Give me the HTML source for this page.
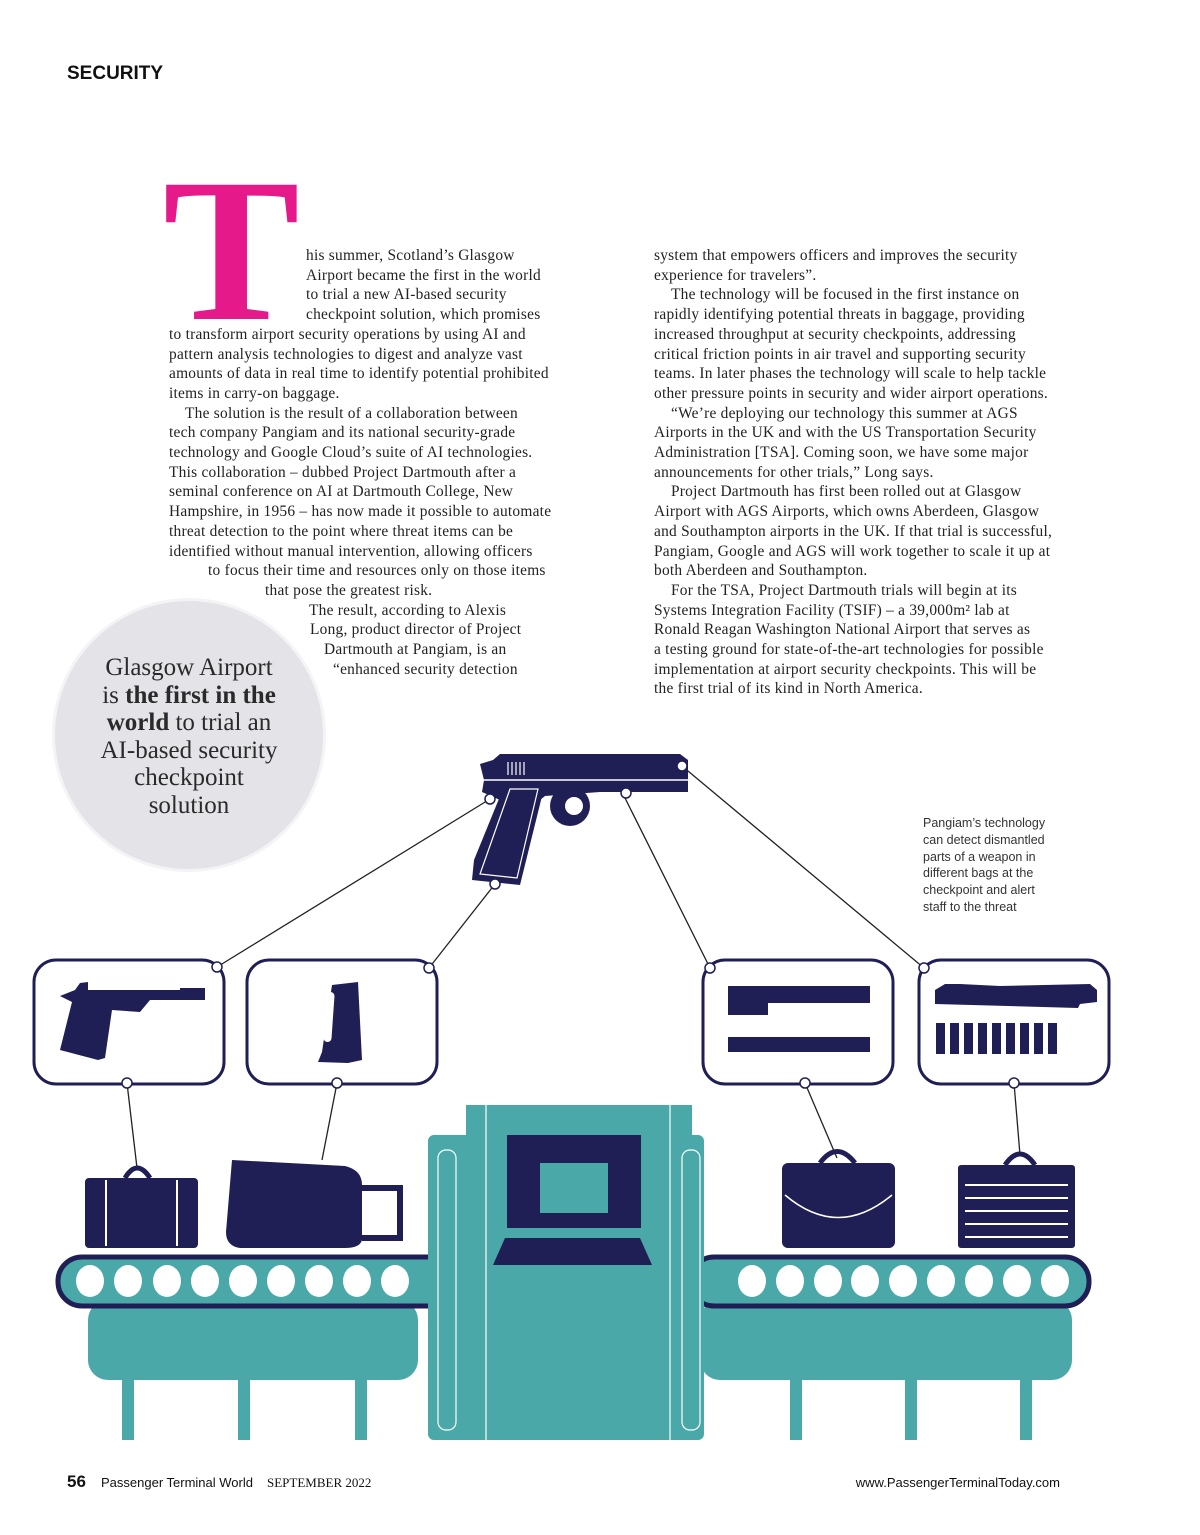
<!DOCTYPE html>
<html><head><meta charset="utf-8"><style>
body{margin:0;background:#fff;}
.page{position:relative;width:1200px;height:1535px;overflow:hidden;background:#fff;font-family:"Liberation Serif",serif;color:#222;}
.l{position:absolute;font-size:15.4px;letter-spacing:0.25px;white-space:nowrap;line-height:19.7px;}
.c1{left:169px;top:246px;width:400px;}
.c2{left:654px;top:246px;width:420px;}
.col div{white-space:nowrap;}
.cap{position:absolute;left:923px;top:815px;font-family:"Liberation Sans",sans-serif;font-size:12.5px;line-height:16.8px;color:#333;}
</style></head><body><div class="page">
<div style="position:absolute;left:67px;top:63px;font-family:'Liberation Sans',sans-serif;font-weight:bold;font-size:19px;color:#111;">SECURITY</div>
<div style="position:absolute;left:163px;top:148px;font-family:'Liberation Serif',serif;font-weight:bold;font-size:205px;line-height:205px;color:#e6198a;">T</div>
<div class="l col c1">
<div style="padding-left:137px">his summer, Scotland’s Glasgow</div>
<div style="padding-left:137px">Airport became the first in the world</div>
<div style="padding-left:137px">to trial a new AI-based security</div>
<div style="padding-left:137px">checkpoint solution, which promises</div>
<div>to transform airport security operations by using AI and</div>
<div>pattern analysis technologies to digest and analyze vast</div>
<div>amounts of data in real time to identify potential prohibited</div>
<div>items in carry-on baggage.</div>
<div style="padding-left:16px">The solution is the result of a collaboration between</div>
<div>tech company Pangiam and its national security-grade</div>
<div>technology and Google Cloud’s suite of AI technologies.</div>
<div>This collaboration – dubbed Project Dartmouth after a</div>
<div>seminal conference on AI at Dartmouth College, New</div>
<div>Hampshire, in 1956 – has now made it possible to automate</div>
<div>threat detection to the point where threat items can be</div>
<div>identified without manual intervention, allowing officers</div>
<div style="padding-left:39px">to focus their time and resources only on those items</div>
<div style="padding-left:96px">that pose the greatest risk.</div>
<div style="padding-left:140px">The result, according to Alexis</div>
<div style="padding-left:141px">Long, product director of Project</div>
<div style="padding-left:155px">Dartmouth at Pangiam, is an</div>
<div style="padding-left:164px">“enhanced security detection</div>
</div>
<div class="l col c2">
<div>system that empowers officers and improves the security</div>
<div>experience for travelers”.</div>
<div style="padding-left:17px">The technology will be focused in the first instance on</div>
<div>rapidly identifying potential threats in baggage, providing</div>
<div>increased throughput at security checkpoints, addressing</div>
<div>critical friction points in air travel and supporting security</div>
<div>teams. In later phases the technology will scale to help tackle</div>
<div>other pressure points in security and wider airport operations.</div>
<div style="padding-left:17px">“We’re deploying our technology this summer at AGS</div>
<div>Airports in the UK and with the US Transportation Security</div>
<div>Administration [TSA]. Coming soon, we have some major</div>
<div>announcements for other trials,” Long says.</div>
<div style="padding-left:17px">Project Dartmouth has first been rolled out at Glasgow</div>
<div>Airport with AGS Airports, which owns Aberdeen, Glasgow</div>
<div>and Southampton airports in the UK. If that trial is successful,</div>
<div>Pangiam, Google and AGS will work together to scale it up at</div>
<div>both Aberdeen and Southampton.</div>
<div style="padding-left:17px">For the TSA, Project Dartmouth trials will begin at its</div>
<div>Systems Integration Facility (TSIF) – a 39,000m² lab at</div>
<div>Ronald Reagan Washington National Airport that serves as</div>
<div>a testing ground for state-of-the-art technologies for possible</div>
<div>implementation at airport security checkpoints. This will be</div>
<div>the first trial of its kind in North America.</div>
</div>
<div style="position:absolute;left:52px;top:598px;width:268px;height:268px;border-radius:50%;background:#e4e3e8;border:3px solid #f4f4f6;"></div>
<div style="position:absolute;left:55px;top:654px;width:268px;text-align:center;font-family:'Liberation Serif',serif;font-size:25px;line-height:27.5px;color:#2a2a2a;">Glasgow Airport<br>is <b>the first in the</b><br><b>world</b> to trial an<br>AI-based security<br>checkpoint<br>solution</div>
<div class="cap">Pangiam’s technology<br>can detect dismantled<br>parts of a weapon in<br>different bags at the<br>checkpoint and alert<br>staff to the threat</div>

<svg style="position:absolute;left:0;top:0" width="1200" height="1535">
<g stroke="#222" stroke-width="1.3">
<line x1="490" y1="799" x2="217" y2="967"/><line x1="495" y1="884" x2="429" y2="968"/>
<line x1="623" y1="794" x2="710" y2="968"/><line x1="682" y1="766" x2="924" y2="968"/>
<line x1="127" y1="1083" x2="137" y2="1168"/><line x1="337" y1="1083" x2="322" y2="1160"/>
<line x1="805" y1="1083" x2="837" y2="1158"/><line x1="1014" y1="1083" x2="1020" y2="1155"/>
</g>
<g fill="#1f1f55">
<path d="M480 764 L493 760 L500 754 L680 754 L688 760 L688 792 L640 792 L600 792 L545 796 L540 800 L500 800 L482 792 L484 780 Z"/>
<path d="M505 784 L545 784 L520 885 L472 880 L474 860 Z"/>
<circle cx="570" cy="806" r="20"/>
</g>
<circle cx="574" cy="806" r="9" fill="#fff"/>
<path d="M510 789 L538 789 L517 878 L480 874 Z" fill="none" stroke="#fff" stroke-width="1.2"/>
<line x1="478" y1="780" x2="688" y2="780" stroke="#fff" stroke-width="1.5"/>
<g stroke="#fff" stroke-width="1.2"><line x1="508" y1="762" x2="508" y2="775"/><line x1="512" y1="762" x2="512" y2="775"/><line x1="516" y1="762" x2="516" y2="775"/><line x1="520" y1="762" x2="520" y2="775"/><line x1="524" y1="762" x2="524" y2="775"/></g>
<g fill="#fff" stroke="#1f1f55" stroke-width="3">
<rect x="34" y="960" width="190" height="124" rx="22"/>
<rect x="247" y="960" width="190" height="124" rx="22"/>
<rect x="703" y="960" width="190" height="124" rx="22"/>
<rect x="919" y="960" width="190" height="124" rx="22"/>
</g>
<g fill="#fff" stroke="#1f1f55" stroke-width="1.5">
<circle cx="490" cy="799" r="5"/><circle cx="495" cy="884" r="5"/><circle cx="626" cy="793" r="5"/><circle cx="682" cy="766" r="5"/>
<circle cx="217" cy="967" r="5"/><circle cx="429" cy="968" r="5"/><circle cx="710" cy="968" r="5"/><circle cx="924" cy="968" r="5"/>
<circle cx="127" cy="1083" r="5"/><circle cx="337" cy="1083" r="5"/><circle cx="805" cy="1083" r="5"/><circle cx="1014" cy="1083" r="5"/>
</g>
<g fill="#1f1f55">
<path d="M60 996 L75 990 L80 983 L88 982 L88 990 L180 990 L180 988 L205 988 L205 1000 L150 1000 L140 1012 L112 1010 L105 1058 L98 1060 L60 1050 L72 1002 Z"/>
<path d="M332 985 L358 982 L362 1060 L348 1063 L318 1062 L322 1052 Z"/>
<rect x="728" y="986" width="142" height="17"/>
<rect x="728" y="1000" width="40" height="15"/>
<rect x="728" y="1037" width="142" height="15"/>
<path d="M935 990 L945 984 L960 984 L1000 986 L1090 984 L1097 990 L1097 1002 L1080 1004 L1078 1008 L935 1004 Z"/>
</g>
<g fill="#fff"><rect x="325" y="992" width="8" height="50" rx="4" transform="rotate(4 329 1017)"/></g>
<g fill="#1f1f55">
<rect x="936" y="1023" width="9" height="31"/><rect x="950" y="1023" width="9" height="31"/><rect x="964" y="1023" width="9" height="31"/><rect x="978" y="1023" width="9" height="31"/><rect x="992" y="1023" width="9" height="31"/><rect x="1006" y="1023" width="9" height="31"/><rect x="1020" y="1023" width="9" height="31"/><rect x="1034" y="1023" width="9" height="31"/><rect x="1048" y="1023" width="9" height="31"/>
</g>
<g fill="#4aa8a8">
<rect x="88" y="1300" width="330" height="80" rx="20"/>
<rect x="700" y="1300" width="372" height="80" rx="20"/>
<rect x="122" y="1370" width="12" height="70"/><rect x="238" y="1370" width="12" height="70"/><rect x="355" y="1370" width="12" height="70"/>
<rect x="790" y="1370" width="12" height="70"/><rect x="905" y="1370" width="12" height="70"/><rect x="1020" y="1370" width="12" height="70"/>
</g>
<rect x="58" y="1257" width="400" height="49" rx="24" fill="#4aa8a8" stroke="#1f1f55" stroke-width="5"/>
<rect x="690" y="1257" width="399" height="49" rx="24" fill="#4aa8a8" stroke="#1f1f55" stroke-width="5"/>
<g fill="#4aa8a8">
<rect x="428" y="1135" width="276" height="305" rx="6"/>
<rect x="466" y="1105" width="226" height="335"/>
</g>
<g fill="none" stroke="#fff" stroke-width="1.2">
<line x1="486" y1="1105" x2="486" y2="1440"/><line x1="670" y1="1105" x2="670" y2="1440"/>
<rect x="438" y="1150" width="18" height="280" rx="8"/><rect x="682" y="1150" width="18" height="280" rx="8"/>
</g>
<rect x="507" y="1135" width="134" height="93" fill="#1f1f55"/>
<rect x="540" y="1163" width="68" height="50" fill="#4aa8a8"/>
<path d="M505 1238 L640 1238 L652 1265 L493 1265 Z" fill="#1f1f55"/>
<g fill="#fff">
<ellipse cx="90" cy="1281" rx="14" ry="16"/><ellipse cx="128" cy="1281" rx="14" ry="16"/><ellipse cx="167" cy="1281" rx="14" ry="16"/><ellipse cx="205" cy="1281" rx="14" ry="16"/><ellipse cx="243" cy="1281" rx="14" ry="16"/><ellipse cx="281" cy="1281" rx="14" ry="16"/><ellipse cx="319" cy="1281" rx="14" ry="16"/><ellipse cx="357" cy="1281" rx="14" ry="16"/><ellipse cx="395" cy="1281" rx="14" ry="16"/>
<ellipse cx="752" cy="1281" rx="14" ry="16"/><ellipse cx="790" cy="1281" rx="14" ry="16"/><ellipse cx="828" cy="1281" rx="14" ry="16"/><ellipse cx="865" cy="1281" rx="14" ry="16"/><ellipse cx="903" cy="1281" rx="14" ry="16"/><ellipse cx="941" cy="1281" rx="14" ry="16"/><ellipse cx="979" cy="1281" rx="14" ry="16"/><ellipse cx="1017" cy="1281" rx="14" ry="16"/><ellipse cx="1055" cy="1281" rx="14" ry="16"/>
</g>
<g fill="#1f1f55">
<rect x="85" y="1178" width="113" height="70" rx="4"/>
<path d="M125 1178 Q137 1158 150 1178" fill="none" stroke="#1f1f55" stroke-width="5"/>
<path d="M232 1160 L345 1166 Q362 1170 362 1185 L362 1240 Q360 1248 345 1248 L240 1248 Q226 1246 226 1232 Z"/>
<path d="M362 1188 L400 1188 L400 1238 L362 1238" fill="none" stroke="#1f1f55" stroke-width="6"/>
<rect x="782" y="1163" width="113" height="85" rx="6"/>
<path d="M820 1163 Q837 1140 855 1163" fill="none" stroke="#1f1f55" stroke-width="5"/>
<rect x="958" y="1165" width="117" height="83" rx="3"/>
<path d="M1005 1165 Q1020 1143 1035 1165" fill="none" stroke="#1f1f55" stroke-width="5"/>
</g>
<g stroke="#fff" stroke-width="2">
<line x1="106" y1="1180" x2="106" y2="1246"/><line x1="177" y1="1180" x2="177" y2="1246"/>
<line x1="965" y1="1185" x2="1068" y2="1185"/><line x1="965" y1="1198" x2="1068" y2="1198"/><line x1="965" y1="1211" x2="1068" y2="1211"/><line x1="965" y1="1224" x2="1068" y2="1224"/><line x1="965" y1="1237" x2="1068" y2="1237"/>
</g>
<path d="M785 1195 Q838 1240 892 1195" fill="none" stroke="#fff" stroke-width="1.5"/>
</svg>

<div style="position:absolute;left:67px;top:1472px;font-family:'Liberation Sans',sans-serif;font-weight:bold;font-size:17px;color:#111;">56</div>
<div style="position:absolute;left:101px;top:1475px;font-family:'Liberation Sans',sans-serif;font-size:13px;color:#111;">Passenger Terminal World</div>
<div style="position:absolute;left:267px;top:1475px;font-family:'Liberation Serif',serif;font-size:13px;color:#111;">SEPTEMBER 2022</div>
<div style="position:absolute;right:140px;top:1475px;font-family:'Liberation Sans',sans-serif;font-size:13px;color:#111;">www.PassengerTerminalToday.com</div>
</div></body></html>
